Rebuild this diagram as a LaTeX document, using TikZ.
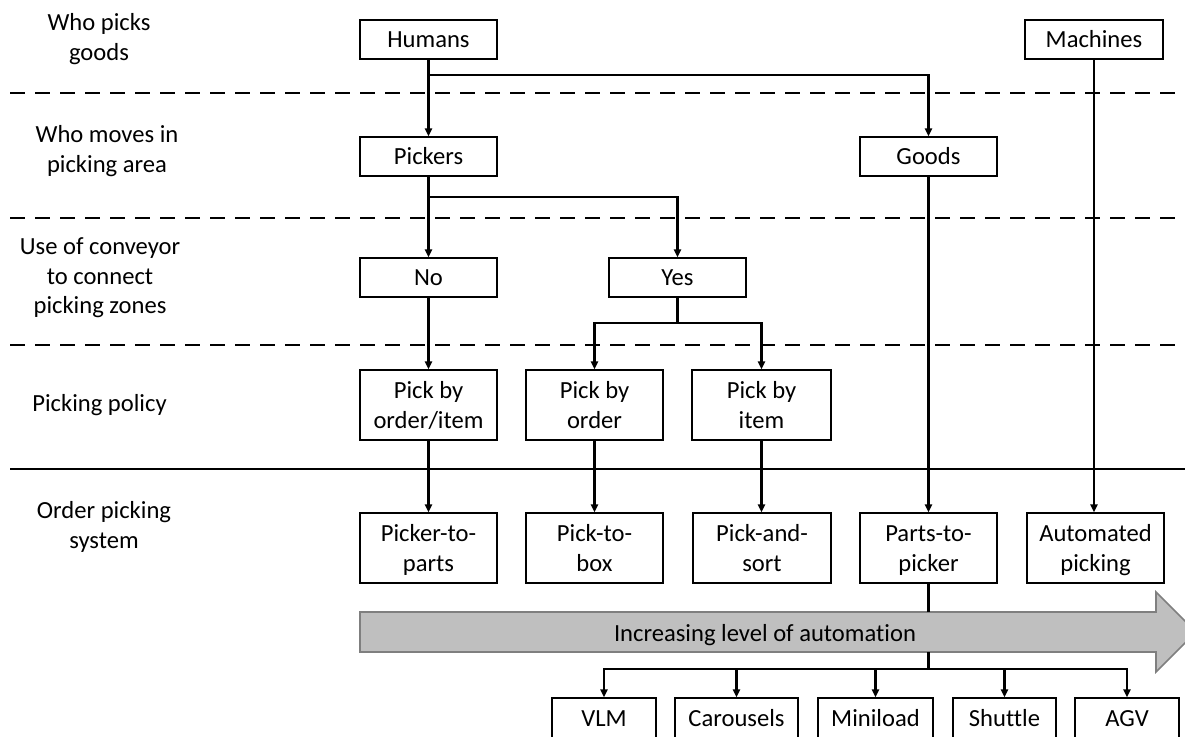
\documentclass[tikz,border=0pt]{standalone}
\usepackage{fontspec}
\setmainfont{Carlito}[Ligatures=NoCommon]
\usetikzlibrary{arrows.meta}
\definecolor{autofill}{HTML}{BFBFBF}
\definecolor{autoline}{HTML}{7F7F7F}
% strut that keeps one-line box texts at one common vertical position
\newcommand\capstrut{\rule[-3pt]{0pt}{13.9pt}}
% two centred lines, nudged down while keeping the reported size
\newcommand\twolines[2]{\raisebox{-1.4pt}[\height][\depth]{\begin{tabular}{@{}c@{}}#1\\#2\end{tabular}}}
\begin{document}
\begin{tikzpicture}[x=0.5pt,y=-0.5pt,
  txt/.style={font=\fontsize{12.3}{14.8}\selectfont},
  frame/.style={txt, draw, line width=0.75pt, minimum width=68.5pt, inner sep=0pt},
  box/.style={frame, minimum height=19.5pt, align=center,
    execute at begin node=\capstrut, execute at end node=\capstrut},
  tallbox/.style={frame, minimum height=35pt},
  lowbox/.style={box, minimum height=21pt},
  lbl/.style={txt, align=center, inner sep=0pt},
  conn/.style={line width=1.25pt},
  arr/.style={conn, -{Triangle[length=4pt,width=3.6pt]}},
  sep/.style={line width=1.4pt, dash pattern=on 7.5pt off 5pt},
]
\useasboundingbox (0,0) rectangle (1185,736);
\clip (0,0) rectangle (1185,736);

% level separators
\draw[sep] (10,93) -- (1185,93);
\draw[sep] (10,218) -- (1185,218);
\draw[sep] (10,345) -- (1185,345);
\draw[line width=1.4pt] (10,469) -- (1185,469);

% level labels
\node[lbl] (l1) at (99,39) {Who picks\\goods};
\node[lbl] (l2) at (107,151) {Who moves in\\picking area};
\node[lbl] (l3) at (100,278) {Use of conveyor\\to connect\\picking zones};
\node[lbl] (l4) at (99.5,405) {Picking policy};
\node[lbl] (l5) at (104,527) {Order picking\\system};

% decision boxes
\node[box] (humans) at (428.5,39.5) {Humans};
\node[box, minimum width=69pt] (machines) at (1094,39.5) {Machines};
\node[box] (pickers) at (428.5,156.5) {Pickers};
\node[box] (goods) at (928.5,156.5) {Goods};
\node[box] (no) at (428.5,277.5) {No};
\node[box] (yes) at (677.5,277.5) {Yes};
\node[tallbox] (pboi) at (428.5,405) {\twolines{Pick by}{order/item}};
\node[tallbox] (pbo) at (594.5,405) {\twolines{Pick by}{order}};
\node[tallbox, minimum width=69.5pt] (pbi) at (761.5,405) {\twolines{Pick by}{item}};

% order picking systems
\node[tallbox] (ptp) at (428.5,548) {\twolines{Picker-to-}{parts}};
\node[tallbox] (ptb) at (594.5,548) {\twolines{Pick-to-}{box}};
\node[tallbox, minimum width=69pt] (pas) at (762,548) {\twolines{Pick-and-}{sort}};
\node[tallbox] (p2p) at (928.5,548) {\twolines{Parts-to-}{picker}};
\node[tallbox] (auto) at (1095.5,548) {\twolines{Automated}{picking}};

% automation arrow
\draw[fill=autofill, draw=autoline, line width=0.8pt]
  (360,612) -- (1156,612) -- (1156,592) -- (1196,632) -- (1156,672)
  -- (1156,652) -- (360,652) -- cycle;
\node[lbl, execute at begin node=\capstrut] (level) at (765,634) {Increasing level of automation};

% parts-to-picker technologies
\node[lowbox, minimum width=52pt] (vlm) at (604,719) {VLM};
\node[lowbox, minimum width=61.5pt] (car) at (736.5,719) {Carousels};
\node[lowbox, minimum width=57.5pt] (mini) at (875.5,719) {Miniload};
\node[lowbox, minimum width=51.5pt] (shut) at (1004.5,719) {Shuttle};
\node[lowbox, minimum width=52pt] (agv) at (1127,719) {AGV};

% branch points
\coordinate (hsplit) at (428.5,75);
\coordinate (psplit) at (428.5,197);
\coordinate (ysplit) at (677.5,323);
\coordinate (atop) at (928.5,612);
\coordinate (abot) at (928.5,652);
\coordinate (bsplit) at (928.5,669);

% connectors
\draw[conn] (humans.south) -- (hsplit);
\draw[arr] (hsplit) -- (pickers.north);
\draw[arr] (hsplit) -| (goods.north);
\draw[arr] (machines.south) -- (machines.south |- auto.north);

\draw[conn] (pickers.south) -- (psplit);
\draw[arr] (psplit) -- (no.north);
\draw[arr] (psplit) -| (yes.north);
\draw[arr] (goods.south) -- (p2p.north);

\draw[arr] (no.south) -- (pboi.north);
\draw[conn] (yes.south) -- (ysplit);
\draw[arr] (ysplit) -| (pbo.north);
\draw[arr] (ysplit) -| (pbi.north);

\draw[arr] (pboi.south) -- (ptp.north);
\draw[arr] (pbo.south) -- (ptb.north);
\draw[arr] (pbi.south) -- (pbi.south |- pas.north);

\draw[conn] (p2p.south) -- (atop);
\draw[conn] (abot) -- (bsplit);
\draw[arr] (bsplit) -| (vlm.north);
\draw[arr] (bsplit) -| (car.north);
\draw[arr] (bsplit) -| (mini.north);
\draw[arr] (bsplit) -| (shut.north);
\draw[arr] (bsplit) -| (agv.north);
\end{tikzpicture}
\end{document}
